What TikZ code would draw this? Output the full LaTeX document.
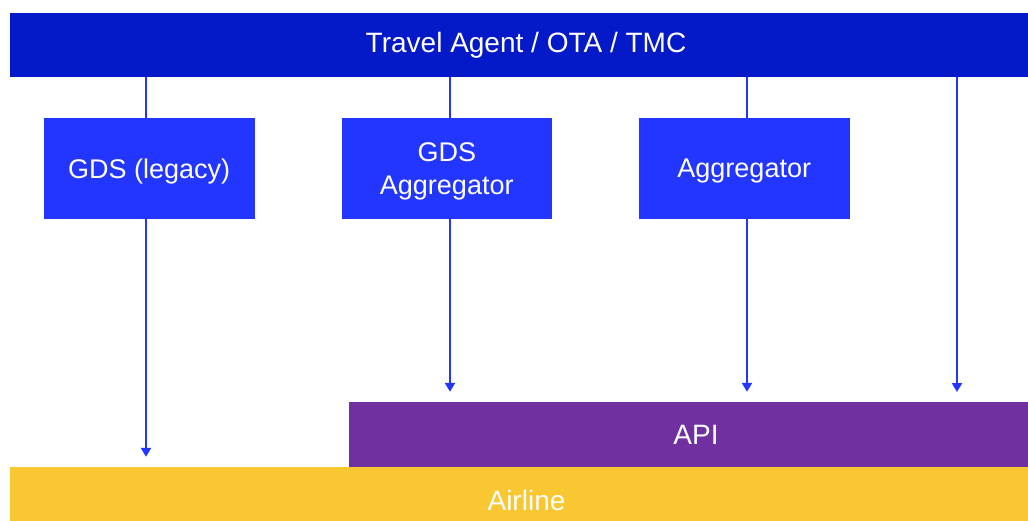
\documentclass[tikz,border=0pt]{standalone}
\usepackage{fontspec}
\setmainfont{Liberation Sans}
\usetikzlibrary{arrows.meta}

\definecolor{navyband}{RGB}{4,25,200}
\definecolor{boxblue}{RGB}{34,54,255}
\definecolor{apipurple}{RGB}{112,48,160}
\definecolor{airyellow}{RGB}{249,199,50}

\tikzset{
  band/.style={rectangle, inner sep=0pt, text=white,
    font=\fontsize{28}{32}\selectfont},
  channel/.style={rectangle, inner sep=0pt, fill=boxblue, text=white,
    minimum height=101pt, align=center, text depth=0pt,
    font=\fontsize{27}{33}\selectfont},
  link/.style={draw=boxblue, line width=2.7pt},
  feed/.style={link, -{Triangle[length=9pt,width=10pt]}, shorten >=10pt},
}

\begin{document}
\begin{tikzpicture}[x=1pt, y=-1pt]
  \useasboundingbox (0,0) rectangle (1028,520);
  \clip (0,0) rectangle (1028,520);

  % bands
  \node[band, fill=navyband, minimum width=1032pt, minimum height=64pt]
    (agent) at (526,45) {Travel Agent / OTA / TMC};
  \node[band, fill=apipurple, minimum width=694pt, minimum height=65pt]
    (api) at (696,434.5) {API};
  \node[band, fill=airyellow, minimum width=1033pt, minimum height=66pt]
    (airline) at (526.5,500) {Airline};

  % distribution channels
  \node[channel, minimum width=211.5pt] (gds) at (149.25,168.5) {GDS (legacy)};
  \node[channel, minimum width=209.5pt] (gdsagg) at (446.75,168.5) {GDS\\Aggregator};
  \node[channel, minimum width=211.5pt] (agg) at (744.25,168.5) {Aggregator};
  \coordinate (direct) at (957,402);

  % agent to channels
  \draw[link] ([xshift=-3.25pt]gds.north |- agent.south) -- ([xshift=-3.25pt]gds.north);
  \draw[link] ([xshift=3.25pt]gdsagg.north |- agent.south) -- ([xshift=3.25pt]gdsagg.north);
  \draw[link] ([xshift=2.75pt]agg.north |- agent.south) -- ([xshift=2.75pt]agg.north);

  % channels to supplier
  \draw[feed] ([xshift=-3.25pt]gds.south) -- ([xshift=-3.25pt]gds.south |- airline.north);
  \draw[feed] ([xshift=3.25pt]gdsagg.south) -- ([xshift=3.25pt]gdsagg.south |- api.north);
  \draw[feed] ([xshift=2.75pt]agg.south) -- ([xshift=2.75pt]agg.south |- api.north);
  \draw[feed] (direct |- agent.south) -- (direct);
\end{tikzpicture}
\end{document}
